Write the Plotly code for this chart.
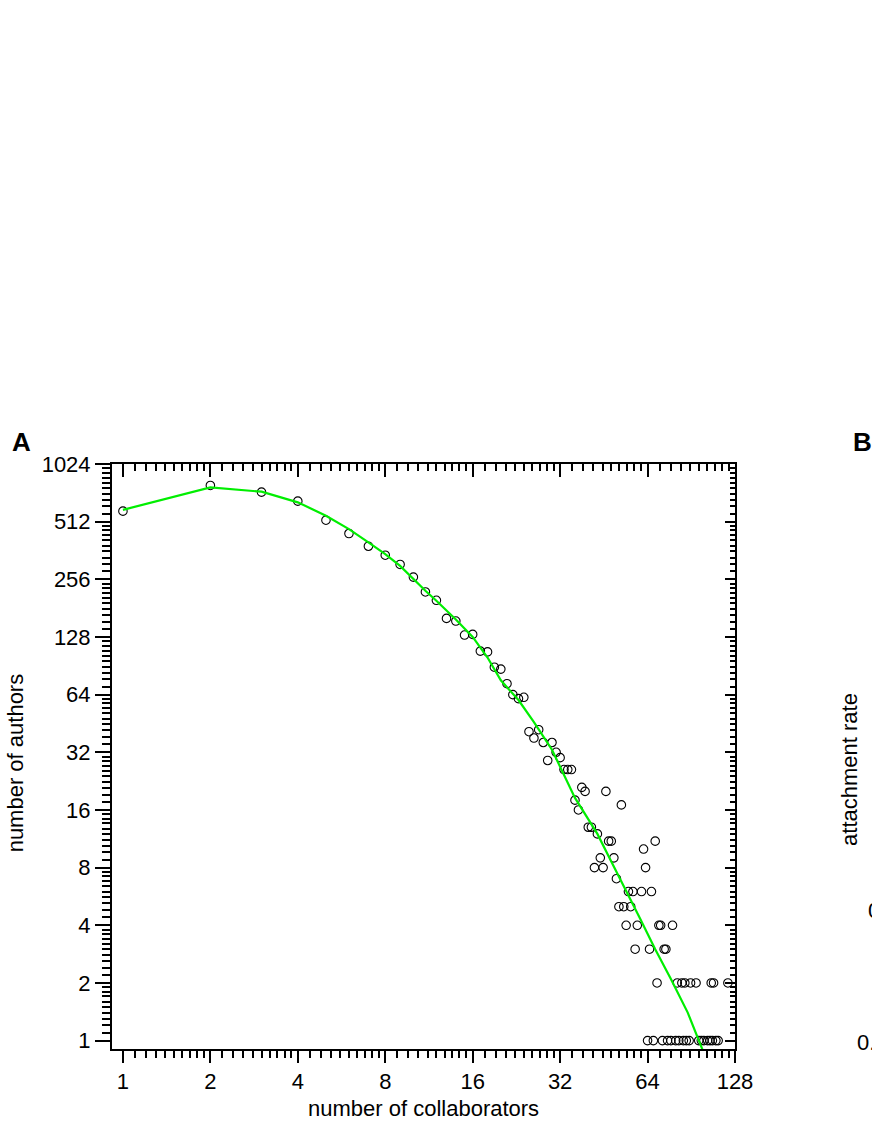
import math
import plotly.graph_objects as go

# number of collaborators (x) and number of authors with that many collaborators (y)
n_collab = [1, 2, 3, 4, 5, 6, 7, 8, 9, 10, 11, 12, 13, 14, 15, 16, 17, 18, 19, 20,
            21, 22, 23, 24, 25, 26, 27, 28, 29, 30, 31, 32, 33, 34, 35, 36, 37, 38, 39, 40,
            41, 42, 43, 44, 45, 46, 47, 48, 49, 50, 51, 52, 53, 54, 55, 56, 57, 58, 59, 61,
            62, 63, 64, 65, 66, 67, 68, 69, 70, 71, 72, 73, 74, 75, 77, 78, 80, 81, 82, 84,
            85, 86, 87, 89, 90, 94, 96, 98, 100, 103, 105, 106, 107, 108, 110, 112, 121]
n_authors = [581, 791, 730, 655, 521, 444, 381, 342, 306, 263, 220, 199, 160, 155, 131, 132, 108, 107, 89, 87,
             73, 64, 61, 62, 41, 38, 42, 36, 29, 36, 32, 30, 26, 26, 26, 18, 16, 21, 20, 13,
             13, 8, 12, 9, 8, 20, 11, 11, 9, 7, 5, 17, 5, 4, 6, 5, 6, 3, 4, 6,
             10, 8, 1, 3, 6, 1, 11, 2, 4, 4, 1, 3, 3, 1, 1, 4, 1, 2, 1, 2,
             1, 2, 1, 1, 2, 2, 1, 1, 1, 1, 1, 2, 1, 2, 1, 1, 2]

# green fitted curve
fit_x = [1, 2, 3, 4, 5, 6, 7, 8, 9, 10, 11, 12, 14, 16, 18, 20, 23, 26, 30, 36, 43, 48, 52, 60, 68, 77, 88, 100]
fit_y = [590, 773, 734, 646, 550, 468, 399, 347, 301, 257, 223, 198, 158, 128, 100, 76, 60, 46, 33, 18.5, 12, 8.6, 6.8, 4.4, 3.0, 2.1, 1.4, 0.86]

x_ticks = [1, 2, 4, 8, 16, 32, 64, 128]
y_ticks = [1, 2, 4, 8, 16, 32, 64, 128, 256, 512, 1024]

fnt = "Liberation Sans, Arial, sans-serif"

def minors(majors):
    out = []
    for m in majors[:-1]:
        for k in range(1, 10):
            out.append(m * (1 + k / 10))
    return out

x_range = [math.log10(0.917), math.log10(128)]
y_range = [math.log10(0.904), math.log10(1024)]

fig = go.Figure()
fig.add_trace(go.Scatter(x=n_collab, y=n_authors, mode="markers",
                         marker=dict(symbol="circle-open", size=8.5, color="black", line=dict(width=1.1)),
                         showlegend=False, hoverinfo="skip"))
fig.add_trace(go.Scatter(x=fit_x, y=fit_y, mode="lines",
                         line=dict(color="#00ee00", width=2.2), showlegend=False, hoverinfo="skip"))
# empty traces so the mirrored (top / right) axes get drawn
fig.add_trace(go.Scatter(x=[None], y=[None], xaxis="x2", yaxis="y", showlegend=False))
fig.add_trace(go.Scatter(x=[None], y=[None], xaxis="x", yaxis="y2", showlegend=False))

ax = dict(type="log", showgrid=False, zeroline=False, showline=True, linewidth=2, linecolor="black",
          tickcolor="black", tickwidth=2, tickmode="array",
          tickfont=dict(family=fnt, size=22, color="black"))

fig.update_layout(
    width=872, height=1128,
    margin=dict(l=112, r=137, t=464, b=79),
    plot_bgcolor="white", paper_bgcolor="white",
    xaxis=dict(ax, range=x_range, tickvals=x_ticks, ticktext=[str(v) for v in x_ticks],
               ticks="outside", ticklen=12,
               minor=dict(tickvals=minors(x_ticks), ticks="outside", ticklen=7, tickwidth=1.5,
                          tickcolor="black", showgrid=False)),
    xaxis2=dict(ax, range=x_range, tickvals=x_ticks, overlaying="x", side="top", anchor="y",
                ticks="inside", ticklen=13, showticklabels=False,
                minor=dict(tickvals=minors(x_ticks), ticks="inside", ticklen=7, tickwidth=1.5,
                           tickcolor="black", showgrid=False)),
    yaxis=dict(ax, range=y_range, tickvals=y_ticks, ticktext=[str(v) for v in y_ticks],
               ticks="outside", ticklen=15,
               minor=dict(tickvals=minors(y_ticks), ticks="outside", ticklen=8, tickwidth=1.5,
                          tickcolor="black", showgrid=False)),
    yaxis2=dict(ax, range=y_range, tickvals=y_ticks, overlaying="y", side="right", anchor="x",
                ticks="inside", ticklen=10, showticklabels=False,
                minor=dict(tickvals=minors(y_ticks), ticks="inside", ticklen=5, tickwidth=1.5,
                           tickcolor="black", showgrid=False)),
)

def note(text, x, y, size=22, angle=0, xanchor="center", bold=False):
    fig.add_annotation(text="<b>%s</b>" % text if bold else text, x=x, y=y, xref="paper", yref="paper",
                       xanchor=xanchor, yanchor="middle", showarrow=False, textangle=angle,
                       font=dict(family=fnt, size=size, color="black"))

note("number of collaborators", 0.5, -0.101)
note("number of authors", -0.1557, 0.49, angle=-90)
note("A", -0.1637, 1.0368, size=26, xanchor="left", bold=True)
# panel B, mostly off the page
note("B", 1.1862, 1.0368, size=26, xanchor="left", bold=True)
note("attachment rate", 1.1846, 0.477, angle=-90)
note("0.1", 1.2103, 0.236, xanchor="left")
note("0.01", 1.1926, 0.0103, xanchor="left")

# drop the default 8px body margin so the figure fills the window exactly
fig.write_html("out.html", config={"displayModeBar": False},
               post_script="document.body.style.margin='0';")
